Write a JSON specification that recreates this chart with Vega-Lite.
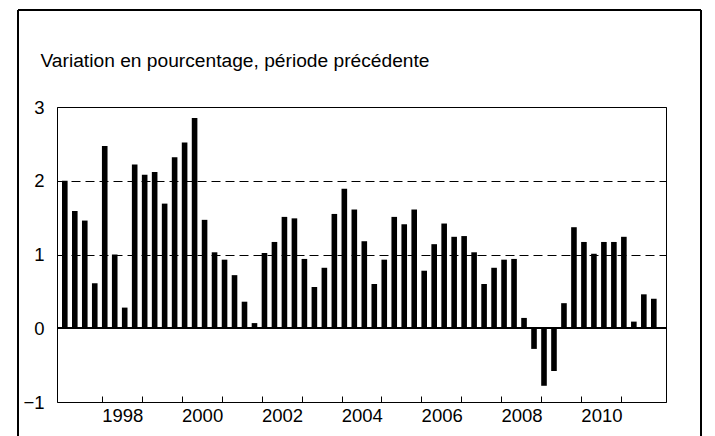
{
  "$schema": "https://vega.github.io/schema/vega-lite/v6.json",
  "width": 609,
  "height": 295,
  "autosize": {"type": "none"},
  "padding": {"left": 57, "top": 107, "right": 49, "bottom": 34},
  "background": "white",
  "title": {
    "text": "Variation en pourcentage, période précédente",
    "anchor": "start",
    "frame": "group",
    "dx": -16.5,
    "baseline": "alphabetic",
    "offset": -76,
    "font": "Liberation Sans",
    "fontSize": 19.2,
    "fontWeight": "normal",
    "color": "#000"
  },
  "data": {
    "values": [
      {"t": 1997.0, "v": 2.0}, {"t": 1997.25, "v": 1.59}, {"t": 1997.5, "v": 1.46}, {"t": 1997.75, "v": 0.61},
      {"t": 1998.0, "v": 2.47}, {"t": 1998.25, "v": 1.0}, {"t": 1998.5, "v": 0.28}, {"t": 1998.75, "v": 2.22},
      {"t": 1999.0, "v": 2.08}, {"t": 1999.25, "v": 2.12}, {"t": 1999.5, "v": 1.69}, {"t": 1999.75, "v": 2.32},
      {"t": 2000.0, "v": 2.52}, {"t": 2000.25, "v": 2.85}, {"t": 2000.5, "v": 1.47}, {"t": 2000.75, "v": 1.03},
      {"t": 2001.0, "v": 0.93}, {"t": 2001.25, "v": 0.72}, {"t": 2001.5, "v": 0.36}, {"t": 2001.75, "v": 0.07},
      {"t": 2002.0, "v": 1.02}, {"t": 2002.25, "v": 1.17}, {"t": 2002.5, "v": 1.51}, {"t": 2002.75, "v": 1.49},
      {"t": 2003.0, "v": 0.94}, {"t": 2003.25, "v": 0.56}, {"t": 2003.5, "v": 0.82}, {"t": 2003.75, "v": 1.55},
      {"t": 2004.0, "v": 1.89}, {"t": 2004.25, "v": 1.61}, {"t": 2004.5, "v": 1.18}, {"t": 2004.75, "v": 0.6},
      {"t": 2005.0, "v": 0.93}, {"t": 2005.25, "v": 1.51}, {"t": 2005.5, "v": 1.41}, {"t": 2005.75, "v": 1.61},
      {"t": 2006.0, "v": 0.78}, {"t": 2006.25, "v": 1.14}, {"t": 2006.5, "v": 1.42}, {"t": 2006.75, "v": 1.24},
      {"t": 2007.0, "v": 1.25}, {"t": 2007.25, "v": 1.03}, {"t": 2007.5, "v": 0.6}, {"t": 2007.75, "v": 0.82},
      {"t": 2008.0, "v": 0.93}, {"t": 2008.25, "v": 0.94}, {"t": 2008.5, "v": 0.14}, {"t": 2008.75, "v": -0.28},
      {"t": 2009.0, "v": -0.78}, {"t": 2009.25, "v": -0.58}, {"t": 2009.5, "v": 0.34}, {"t": 2009.75, "v": 1.37},
      {"t": 2010.0, "v": 1.17}, {"t": 2010.25, "v": 1.01}, {"t": 2010.5, "v": 1.17}, {"t": 2010.75, "v": 1.17},
      {"t": 2011.0, "v": 1.24}, {"t": 2011.25, "v": 0.09}, {"t": 2011.5, "v": 0.46}, {"t": 2011.75, "v": 0.4}
    ]
  },
  "encoding": {
    "x": {
      "field": "t",
      "type": "quantitative",
      "scale": {"domain": [1997, 2012], "nice": false, "zero": false},
      "axis": {
        "title": null,
        "domain": false,
        "grid": false,
        "offset": -6,
        "values": [1998, 1999, 2000, 2001, 2002, 2003, 2004, 2005, 2006, 2007, 2008, 2009, 2010, 2011],
        "labelExpr": "datum.value % 2 === 0 ? toString(datum.value) : ''",
        "labelOffset": 20.3,
        "tickSize": 6,
        "tickColor": "#000",
        "tickWidth": 1,
        "labelPadding": 4,
        "labelFont": "Liberation Sans",
        "labelFontSize": 18.5,
        "labelColor": "#000",
        "labelFlush": false,
        "labelOverlap": false
      }
    },
    "y": {
      "field": "v",
      "type": "quantitative",
      "scale": {"domain": [-1, 3], "nice": false, "zero": false},
      "axis": {
        "title": null,
        "domain": false,
        "ticks": false,
        "values": [-1, 0, 1, 2, 3],
        "grid": true,
        "gridColor": "#000",
        "gridDash": [9, 5],
        "gridWidth": 1,
        "labelPadding": 13,
        "labelFont": "Liberation Sans",
        "labelFontSize": 18.5,
        "labelColor": "#000"
      }
    }
  },
  "layer": [
    {
      "mark": {"type": "bar", "color": "#000", "size": 5.6, "xOffset": 2.8}
    },
    {
      "mark": {"type": "rule", "color": "#000", "strokeWidth": 1},
      "encoding": {"y": {"datum": 0}, "x": null}
    },
    {
      "mark": {"type": "rect", "fill": null, "fillOpacity": 0, "stroke": "#000", "strokeWidth": 1, "clip": false},
      "encoding": {
        "x": {"datum": 1995.9},
        "x2": {"datum": 2013.0},
        "y": {"datum": 4.31},
        "y2": {"datum": -1.6}
      }
    }
  ],
  "config": {
    "view": {"stroke": "#000", "strokeWidth": 1}
  }
}
